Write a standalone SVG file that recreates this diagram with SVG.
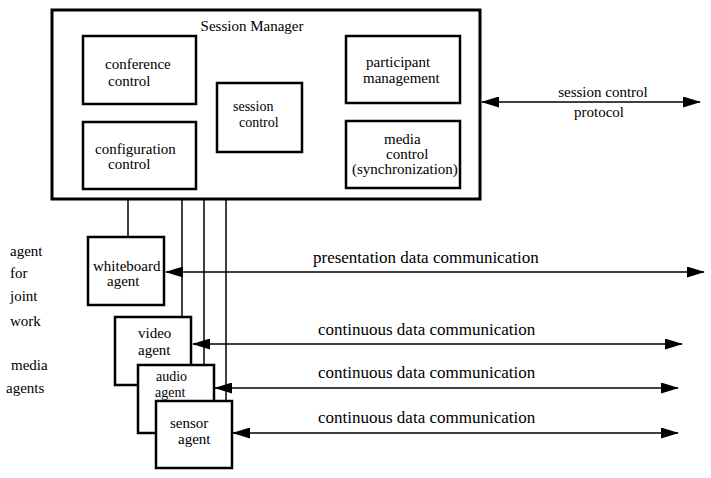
<svg xmlns="http://www.w3.org/2000/svg" width="711" height="478" viewBox="0 0 711 478">
<style>
  .t14 { font-size: 14px; }
  .t15 { font-size: 15px; }
  .t17 { font-size: 17px; }
  .box { fill: #fff; stroke: #000; stroke-width: 2.5; }
  .outer { fill: #fff; stroke: #000; stroke-width: 3; }
  .ln { stroke: #000; stroke-width: 1.5; fill: none; }
  .arr { stroke: #000; stroke-width: 1.6; fill: none; marker-start: url(#ah); marker-end: url(#ah); }
</style>
<defs>
  <marker id="ah" viewBox="0 0 18 11" refX="17" refY="5.5" markerWidth="18" markerHeight="11" markerUnits="userSpaceOnUse" orient="auto-start-reverse">
    <path d="M0,0 L18,5.5 L0,11 z" fill="#000"/>
  </marker>
</defs>
<rect width="711" height="478" fill="#fff"/>
<g font-family="'Liberation Serif', 'Times New Roman', 'DejaVu Serif', serif" fill="#000">
<g id="session-manager">
  <rect class="outer" x="52" y="10" width="428" height="189"/>
  <text class="t15" x="252" y="31" text-anchor="middle">Session Manager</text>
</g>
<g id="conference-control">
  <rect class="box" x="83" y="36" width="113" height="68"/>
  <text class="t15" x="105" y="69">conference</text>
  <text class="t15" x="108" y="86">control</text>
</g>
<g id="configuration-control">
  <rect class="box" x="83" y="122" width="113" height="67"/>
  <text class="t15" x="95" y="154">configuration</text>
  <text class="t15" x="108" y="169">control</text>
</g>
<g id="session-control">
  <rect class="box" x="217" y="83" width="85" height="69"/>
  <text class="t14" x="233" y="111">session</text>
  <text class="t14" x="239" y="127">control</text>
</g>
<g id="participant-management">
  <rect class="box" x="346" y="36" width="114" height="67"/>
  <text class="t15" x="366" y="67">participant</text>
  <text class="t15" x="363" y="83">management</text>
</g>
<g id="media-control">
  <rect class="box" x="346" y="121" width="114" height="67"/>
  <text class="t15" x="384" y="144">media</text>
  <text class="t15" x="386" y="159">control</text>
  <text class="t15" x="352" y="174">(synchronization)</text>
</g>

<g id="connectors">
  <line class="ln" x1="128" y1="200" x2="128" y2="237"/>
  <line class="ln" x1="182" y1="200" x2="182" y2="317"/>
  <line class="ln" x1="204" y1="200" x2="204" y2="365"/>
  <line class="ln" x1="226" y1="200" x2="226" y2="401"/>
  <line class="arr" x1="482" y1="102" x2="700" y2="102"/>
  <line class="arr" x1="166" y1="272" x2="704" y2="272"/>
  <line class="arr" x1="193" y1="344" x2="682" y2="344"/>
  <line class="arr" x1="215" y1="388" x2="678" y2="388"/>
  <line class="arr" x1="233" y1="433" x2="678" y2="433"/>
  <text class="t15" x="603" y="97" text-anchor="middle">session control</text>
  <text class="t15" x="599" y="117" text-anchor="middle">protocol</text>
  <text class="t17" x="313" y="263">presentation data communication</text>
  <text class="t17" x="318" y="335">continuous data communication</text>
  <text class="t17" x="318" y="378">continuous data communication</text>
  <text class="t17" x="318" y="423">continuous data communication</text>
</g>

<g id="whiteboard-agent">
  <rect class="box" x="88" y="237" width="76" height="68"/>
  <text class="t15" x="93" y="271">whiteboard</text>
  <text class="t15" x="107" y="286">agent</text>
</g>
<g id="video-agent">
  <rect class="box" x="115" y="317" width="76" height="68"/>
  <text class="t15" x="138" y="338">video</text>
  <text class="t15" x="138" y="355">agent</text>
</g>
<g id="audio-agent">
  <rect class="box" x="138" y="365" width="76" height="68"/>
  <text class="t14" x="156" y="381">audio</text>
  <text class="t14" x="155" y="397">agent</text>
</g>
<g id="sensor-agent">
  <rect class="box" x="156" y="401" width="76" height="67"/>
  <text class="t15" x="170" y="428">sensor</text>
  <text class="t15" x="178" y="444">agent</text>
</g>

<g id="side-labels">
  <text class="t15" x="10" y="256">agent</text>
  <text class="t15" x="10" y="278">for</text>
  <text class="t15" x="10" y="301">joint</text>
  <text class="t15" x="10" y="326">work</text>
  <text class="t15" x="11" y="370">media</text>
  <text class="t15" x="6" y="393">agents</text>
</g>
</g>
</svg>
